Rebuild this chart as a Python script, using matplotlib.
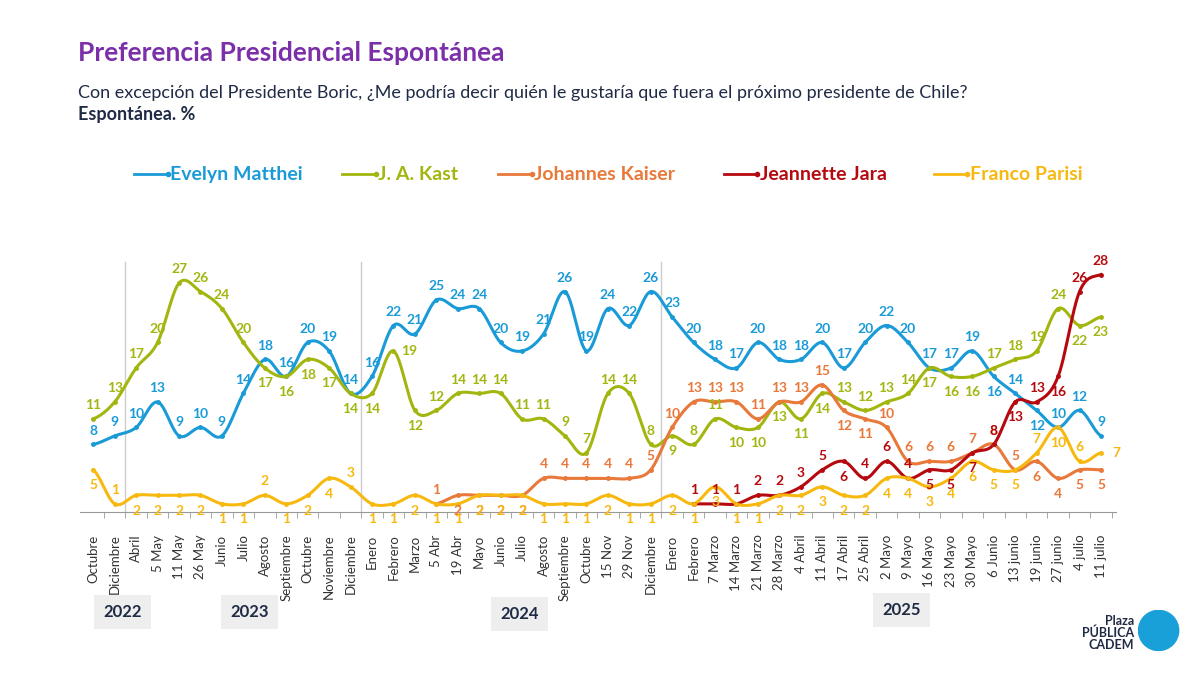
import numpy as np
import matplotlib.pyplot as plt

labels = ["Octubre", "Diciembre", "Abril", "5 May", "11 May", "26 May", "Junio", "Julio",
          "Agosto", "Septiembre", "Octubre", "Noviembre", "Diciembre", "Enero", "Febrero",
          "Marzo", "5 Abr", "19 Abr", "Mayo", "Junio", "Julio", "Agosto", "Septiembre",
          "Octubre", "15 Nov", "29 Nov", "Diciembre", "Enero", "Febrero", "7 Marzo",
          "14 Marzo", "21 Marzo", "28 Marzo", "4 Abril", "11 Abril", "17 Abril", "25 Abril",
          "2 Mayo", "9 Mayo", "16 Mayo", "23 Mayo", "30 Mayo", "6 Junio", "13 junio",
          "19 junio", "27 junio", "4 julio", "11 julio"]

matthei = [8, 9, 10, 13, 9, 10, 9, 14, 18, 16, 20, 19, 14, 16, 22, 21, 25, 24, 24, 20, 19, 21,
           26, 19, 24, 22, 26, 23, 20, 18, 17, 20, 18, 18, 20, 17, 20, 22, 20, 17, 17, 19, 16,
           14, 12, 10, 12, 9]
kast = [11, 13, 17, 20, 27, 26, 24, 20, 17, 16, 18, 17, 14, 14, 19, 12, 12, 14, 14, 14, 11, 11,
        9, 7, 14, 14, 8, 9, 8, 11, 10, 10, 13, 11, 14, 13, 12, 13, 14, 17, 16, 16, 17, 18, 19,
        24, 22, 23]
kaiser_start = 16
kaiser = [1, 2, 2, 2, 2, 4, 4, 4, 4, 4, 5, 10, 13, 13, 13, 11, 13, 13, 15, 12, 11, 10, 6, 6, 6,
          7, 8, 5, 6, 4, 5, 5]
jara_start = 28
jara = [1, 1, 1, 2, 2, 3, 5, 6, 4, 6, 4, 5, 5, 7, 8, 13, 13, 16, 26, 28]
parisi = [5, 1, 2, 2, 2, 2, 1, 1, 2, 1, 2, 4, 3, 1, 1, 2, 1, 1, 2, 2, 2, 1, 1, 1, 2, 1, 1, 2, 1,
          3, 1, 1, 2, 2, 3, 2, 2, 4, 4, 3, 4, 6, 5, 5, 7, 10, 6, 7]

# label placement: a = above, b = below, r = right
pos_matthei = "a" * 42 + "bab" + "aaa"
pos_kast = "aaaaaaaabbbbbbrbaaaaaaaaaaabaabbbbbaaaabbbaaaabb"
pos_kaiser = "abbbbaaaaaaaaaaaaaabbaaaaaaabbbb"
pos_jara = "aaaaaaabaaabbbababaa"
pos_parisi = "babbbbbbabbbabbbbbbbbbbbbbbbbbbbbbbbbbbbbbbbabar"

C_MAT, C_KAST, C_KAI, C_JARA, C_PAR = "#1a9bd7", "#a3b60f", "#e8793a", "#b5090f", "#f7b90f"


def smooth(x, y, n=12):
    # Catmull-Rom through every point
    x = np.asarray(x, float); y = np.asarray(y, float)
    px = np.concatenate([[2 * x[0] - x[1]], x, [2 * x[-1] - x[-2]]])
    py = np.concatenate([[y[0]], y, [y[-1]]])
    xs, ys = [], []
    t = np.linspace(0, 1, n, endpoint=False)
    for i in range(1, len(px) - 2):
        p0, p1, p2, p3 = py[i - 1], py[i], py[i + 1], py[i + 2]
        ys.append(0.5 * (2 * p1 + (-p0 + p2) * t + (2 * p0 - 5 * p1 + 4 * p2 - p3) * t ** 2
                         + (-p0 + 3 * p1 - 3 * p2 + p3) * t ** 3))
        xs.append(px[i] + (px[i + 1] - px[i]) * t)
    xs.append([x[-1]]); ys.append([y[-1]])
    return np.concatenate(xs), np.concatenate(ys)


plt.rcParams['font.family'] = ['Lato', 'DejaVu Sans']
fig = plt.figure(figsize=(12, 6.75), dpi=100)
ax = fig.add_axes([0.067, 0.241, 0.863, 0.39])

x_all = np.arange(len(labels))
series = [
    (x_all, matthei, C_MAT, pos_matthei),
    (x_all, kast, C_KAST, pos_kast),
    (np.arange(kaiser_start, kaiser_start + len(kaiser)), kaiser, C_KAI, pos_kaiser),
    (np.arange(jara_start, jara_start + len(jara)), jara, C_JARA, pos_jara),
    (x_all, parisi, C_PAR, pos_parisi),
]
offs = {"a": (0, 10), "b": (0, -11), "r": (11, 0)}
for xs, ys, col, pos in series:
    sx, sy = smooth(xs, ys)
    ax.plot(sx, sy, color=col, lw=2.2, zorder=3)
    ax.plot(xs, ys, 'o', color=col, ms=2.5, zorder=4)
    for xi, yi, p in zip(xs, ys, pos):
        ax.annotate(str(yi), (xi, yi), xytext=offs[p], textcoords="offset points",
                    ha="center", va="center", color=col, fontsize=10, fontweight="bold",
                    zorder=5)

for b in [1.5, 12.5, 26.5]:
    ax.axvline(b, color="#cccccc", lw=1, zorder=1, ymax=0.95)

ax.set_xlim(-0.6, len(labels) - 0.3)
ax.set_ylim(0, 31)
ax.set_xticks(x_all)
ax.set_xticklabels(labels, rotation=90, fontsize=9.5, color="#333333")
ax.set_xticks(x_all + 0.5, minor=True)
ax.tick_params(axis="x", which="major", length=0, pad=16)
ax.tick_params(axis="x", which="minor", length=4, color="#999999")
ax.set_yticks([])
for s in ["top", "right", "left"]:
    ax.spines[s].set_visible(False)
ax.spines["bottom"].set_color("#999999")

fig.text(0.065, 0.91, "Preferencia Presidencial Espontánea", fontsize=19, fontweight="bold",
         color="#7b2fa8")
fig.text(0.065, 0.855, "Con excepción del Presidente Boric, ¿Me podría decir quién le gustaría que fuera el próximo presidente de Chile?",
         fontsize=13, color="#1f2a44")
fig.text(0.065, 0.822, "Espontánea. %", fontsize=13, fontweight="bold", color="#1f2a44")

leg = [("Evelyn Matthei", C_MAT, 0.112), ("J. A. Kast", C_KAST, 0.285),
       ("Johannes Kaiser", C_KAI, 0.415), ("Jeannette Jara", C_JARA, 0.603),
       ("Franco Parisi", C_PAR, 0.778)]
for name, col, lx in leg:
    fig.add_artist(plt.Line2D([lx, lx + 0.028], [0.742, 0.742], color=col, lw=2,
                              marker="o", markevery=[1], ms=3, transform=fig.transFigure))
    fig.text(lx + 0.03, 0.742, name, fontsize=14, fontweight="bold", color=col, va="center")

for yr, bx, by in [("2022", 0.062, 0.073), ("2023", 0.168, 0.073), ("2024", 0.393, 0.07),
                   ("2025", 0.711, 0.076)]:
    fig.text(bx + 0.04, by + 0.02, yr, fontsize=12, fontweight="bold", color="#1f2a44",
             ha="center", va="center",
             bbox=dict(boxstyle="square,pad=0.55", fc="#eeeeee", ec="none"))

fig.text(0.945, 0.062, "Plaza\nPÚBLICA\nCADEM", fontsize=9, color="#1f2a44", ha="right",
         va="center", fontweight="bold", linespacing=0.95)
logo = fig.add_axes([0.948, 0.035, 0.035, 0.062])
logo.add_patch(plt.Circle((0.5, 0.5), 0.48, color="#1aa0d8"))
logo.set_xlim(0, 1); logo.set_ylim(0, 1); logo.set_aspect("equal"); logo.axis("off")

fig.savefig("out.png", dpi=100, facecolor="white")
